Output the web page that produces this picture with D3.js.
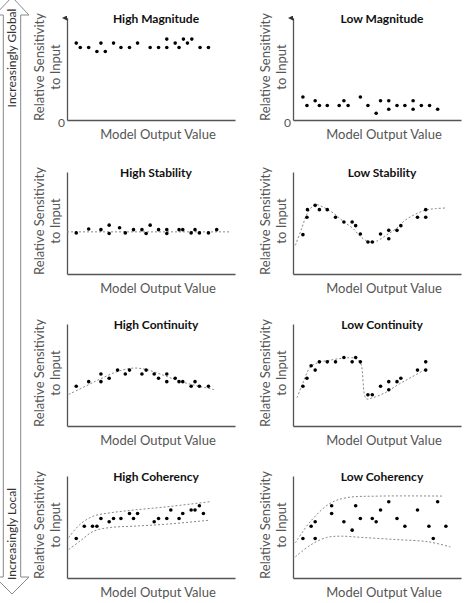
<html lang="en">

<head>
  <meta charset="utf-8">
  <title>Sensitivity patterns</title>
  <script type="text/javascript" src="https://d3js.org/d3.v7.min.js"></script>
  <style>
    body { margin: 0; background: #fff; }
    text { font-family: Lato, "Open Sans", sans-serif; }
  </style>
</head>

<body>
  <svg width="467" height="603"></svg>
  <script>
    // panel titles, in reading order
    const titles = ["High Magnitude", "Low Magnitude", "High Stability", "Low Stability",
      "High Continuity", "Low Continuity", "High Coherency", "Low Coherency"];
    const xLabel = "Model Output Value";
    const yLabel = ["Relative Sensitivity", "to Input"];
    const sideLabels = ["Increasingly Global", "Increasingly Local"];

    // points: [x, y] on a 0..100 scale
    const highMagnitude = [[5.5, 75.4], [7.9, 71.1], [12.9, 71.1], [17.8, 67.2], [20.2, 75.4], [22.8, 67.2],
      [27.7, 75.4], [32.1, 71.1], [37.2, 71.1], [42.0, 75.4], [49.5, 71.1], [54.5, 71.1], [59.4, 79.3],
      [59.4, 71.1], [64.4, 75.4], [66.7, 71.1], [69.3, 79.3], [71.7, 75.4], [74.3, 79.3], [79.2, 71.1], [84.2, 71.1]];
    const lowMagnitude = [[5.9, 22.5], [8.3, 14.2], [13.2, 18.9], [15.7, 14.2], [20.4, 14.2], [27.5, 14.2],
      [30.3, 18.9], [32.8, 14.2], [40.1, 22.5], [44.6, 14.2], [49.5, 6.6], [52.1, 18.9], [57.0, 18.9],
      [57.0, 10.6], [61.9, 14.2], [66.6, 14.2], [71.5, 18.9], [71.5, 10.6], [76.4, 14.2], [81.3, 14.2], [86.1, 10.6]];
    const highStability = [[5.5, 40.3], [12.9, 44.1], [20.2, 43.5], [25.1, 47.9], [25.1, 39.7], [31.3, 45.4],
      [34.7, 40.3], [39.6, 43.5], [44.6, 43.5], [47.1, 39.7], [49.5, 47.9], [54.5, 43.5], [59.4, 43.5],
      [59.4, 39.7], [66.7, 43.5], [68.9, 43.5], [73.9, 40.3], [76.2, 43.5], [78.8, 40.3], [84.2, 40.3], [89.1, 43.5]];
    const highStabilityTrend = [[0, 41.3], [97, 41.3]];
    const lowStability = [[5.9, 38.6], [8.3, 55.6], [8.6, 63.1], [13.2, 67.3], [15.7, 63.1], [20.4, 63.1],
      [25.3, 55.6], [30.3, 51.0], [35.2, 51.0], [37.3, 47.4], [40.1, 39.2], [44.6, 31.4], [47.2, 31.4],
      [52.1, 39.2], [57.0, 42.8], [57.0, 34.6], [61.9, 42.8], [64.2, 47.4], [74.1, 55.6], [79.0, 63.1], [79.0, 55.6]];
    const lowStabilityTrend = [[1.4, 28.1], [5.3, 45.1], [8.6, 59.8], [13.2, 68.0], [18.1, 65.4], [24.0, 59.8],
      [29.9, 51.6], [35.8, 44.4], [40.7, 35.9], [45.6, 31.4], [49.5, 32.0], [55.4, 37.9], [61.3, 44.4],
      [67.2, 53.3], [73.1, 58.8], [79.0, 62.7], [84.9, 64.1], [90.8, 64.7]];
    const highContinuity = [[5.5, 39.0], [12.9, 43.5], [20.2, 51.0], [20.2, 43.5], [25.1, 46.8], [30.1, 54.8],
      [34.7, 51.0], [37.2, 54.8], [44.6, 51.0], [47.1, 54.8], [51.9, 51.0], [54.5, 46.8], [59.4, 51.0],
      [59.4, 43.5], [64.4, 46.8], [66.7, 43.5], [68.9, 43.5], [73.9, 39.0], [76.2, 43.5], [78.8, 39.0], [84.2, 39.0]];
    const highContinuityTrend = [[1.0, 31.0], [11.9, 39.7], [19.8, 46.1], [29.7, 53.2], [39.6, 56.8], [47.5, 55.2],
      [55.4, 51.0], [63.4, 46.1], [71.3, 41.9], [79.2, 38.7], [88.1, 35.5]];
    const lowContinuity = [[5.9, 39.0], [8.3, 46.8], [10.8, 59.0], [13.2, 54.8], [15.7, 62.9], [20.4, 62.9],
      [25.3, 62.9], [30.3, 67.1], [35.2, 62.9], [37.3, 67.1], [40.1, 62.9], [44.6, 30.6], [47.2, 30.6],
      [52.1, 39.0], [57.0, 43.5], [57.0, 35.5], [61.9, 43.5], [64.2, 46.8], [74.1, 54.8], [79.0, 62.9], [79.0, 54.8]];
    const lowContinuityTrend = [[2.4, 27.7], [5.3, 39.7], [10.2, 57.4], [15.1, 62.3], [22.0, 64.5], [29.9, 66.5],
      [36.7, 66.5], [40.1, 62.3], [43.6, 26.8], [47.5, 27.7], [55.4, 33.2], [63.3, 41.3], [71.1, 48.4], [79.0, 55.8]];
    const highCoherency = [[5.5, 38.7], [10.3, 50.8], [15.2, 50.8], [17.8, 50.8], [20.2, 58.4], [25.1, 55.1],
      [27.7, 58.4], [32.1, 58.4], [37.2, 63.3], [39.6, 58.4], [42.0, 63.3], [51.9, 55.1], [54.5, 58.4],
      [59.4, 58.4], [61.8, 66.6], [66.7, 58.4], [68.9, 63.3], [73.9, 66.6], [76.2, 66.6], [78.8, 70.8], [81.2, 63.3]];
    const highCoherencyUpper = [[1.0, 39.7], [7.9, 52.8], [15.8, 60.7], [25.7, 63.9], [39.6, 66.6], [59.4, 69.8], [85.1, 74.8]];
    const highCoherencyLower = [[1.0, 27.9], [7.9, 36.4], [15.8, 45.9], [25.7, 49.5], [39.6, 50.8], [59.4, 52.8], [85.1, 56.7]];
    const lowCoherency = [[5.9, 38.7], [10.8, 50.8], [13.2, 55.1], [13.2, 38.7], [23.0, 70.8], [23.0, 63.3],
      [30.3, 55.1], [35.2, 46.9], [37.3, 70.8], [40.1, 58.4], [47.2, 58.4], [49.5, 55.1], [52.1, 66.6],
      [57.0, 74.8], [61.9, 58.4], [66.6, 50.8], [74.1, 66.6], [80.9, 50.8], [83.5, 38.7], [86.1, 74.8], [91.0, 50.8]];
    const lowCoherencyUpper = [[1.4, 34.4], [10.2, 55.1], [22.0, 73.1], [31.8, 78.7], [51.5, 80.3], [89.8, 80.3]];
    const lowCoherencyLower = [[1.4, 20.7], [10.2, 32.1], [20.0, 39.7], [27.9, 41.0], [41.7, 39.7], [61.3, 37.7],
      [80.9, 35.4], [93.7, 30.5]];

    const panels = [
      { points: highMagnitude, trends: [] },
      { points: lowMagnitude, trends: [] },
      { points: highStability, trends: [highStabilityTrend] },
      { points: lowStability, trends: [lowStabilityTrend] },
      { points: highContinuity, trends: [highContinuityTrend] },
      { points: lowContinuity, trends: [lowContinuityTrend] },
      { points: highCoherency, trends: [highCoherencyUpper, highCoherencyLower] },
      { points: lowCoherency, trends: [lowCoherencyUpper, lowCoherencyLower] }
    ];

    const svg = d3.select("svg");
    const colX = [67, 293];
    const rowBottom = [120, 274, 426, 578];
    const w = 168, h = 102;

    const x = d3.scaleLinear().domain([0, 100]).range([0, w]);
    const y = d3.scaleLinear().domain([0, 100]).range([h, 0]);

    svg.append("defs").append("marker")
      .attr("id", "head")
      .attr("viewBox", "0 0 6 6")
      .attr("refX", 3).attr("refY", 6)
      .attr("markerWidth", 5).attr("markerHeight", 5)
      .attr("orient", "auto-start-reverse")
      .append("path")
      .attr("d", "M0,6 L3,0 L6,6 Z")
      .attr("fill", "#333");

    const line = d3.line()
      .x(d => x(d[0]))
      .y(d => y(d[1]))
      .curve(d3.curveCatmullRom.alpha(0.5));

    panels.forEach((p, i) => {
      const col = i % 2, row = Math.floor(i / 2);
      const g = svg.append("g")
        .attr("transform", `translate(${colX[col]},${rowBottom[row] - h})`);

      // axes
      const yAxis = d3.axisLeft(y)
        .tickValues(row === 0 ? [0] : [])
        .tickSize(0).tickPadding(2).tickSizeOuter(0);
      const ya = g.append("g").call(yAxis);
      ya.select(".domain").attr("stroke", "#555").attr("stroke-width", 1.3);
      ya.selectAll("text").attr("font-size", 12).attr("fill", "#555").attr("dy", "0.55em");
      if (row === 0) {
        ya.append("line")
          .attr("x1", 0).attr("x2", 0).attr("y1", 2).attr("y2", 0)
          .attr("stroke", "#333").attr("marker-end", "url(#head)");
      }

      const xa = g.append("g")
        .attr("transform", `translate(0,${h})`)
        .call(d3.axisBottom(x).tickValues([]).tickSizeOuter(0));
      xa.select(".domain").attr("stroke", "#555").attr("stroke-width", 1.3);

      // trend / envelope lines
      g.selectAll("path.trend")
        .data(p.trends)
        .join("path")
        .attr("class", "trend")
        .attr("d", line)
        .attr("fill", "none")
        .attr("stroke", "#888")
        .attr("stroke-width", 1)
        .attr("stroke-dasharray", "2,2");

      g.selectAll("circle")
        .data(p.points)
        .join("circle")
        .attr("cx", d => x(d[0]))
        .attr("cy", d => y(d[1]))
        .attr("r", 1.8)
        .attr("fill", "#000");

      g.append("text")
        .attr("x", 89).attr("y", 2)
        .attr("text-anchor", "middle")
        .attr("dominant-baseline", "middle")
        .attr("font-size", 12)
        .attr("font-weight", "bold")
        .attr("fill", "#111")
        .text(titles[i]);

      g.append("text")
        .attr("x", 91).attr("y", h + 16)
        .attr("text-anchor", "middle")
        .attr("dominant-baseline", "middle")
        .attr("font-size", 13)
        .attr("fill", "#555")
        .text(xLabel);

      yLabel.forEach((t, k) => {
        g.append("text")
          .attr("transform", `translate(${k === 0 ? -26 : -10},${h - 53}) rotate(-90)`)
          .attr("text-anchor", "middle")
          .attr("dominant-baseline", "middle")
          .attr("font-size", 13)
          .attr("fill", "#555")
          .text(t);
      });
    });

    // double-headed arrow on the left
    const ax = 12, sw = 8.7, hw = 17;
    svg.append("path")
      .attr("d", `M${ax},-3 L${ax + hw},15 L${ax + sw},15 L${ax + sw},577 L${ax + hw},577 L${ax},594
        L${ax - hw},577 L${ax - sw},577 L${ax - sw},15 L${ax - hw},15 Z`)
      .attr("fill", "#fff")
      .attr("stroke", "#888")
      .attr("stroke-width", 1);

    svg.selectAll("text.side")
      .data(sideLabels)
      .join("text")
      .attr("class", "side")
      .attr("transform", (d, i) => `translate(${ax + 1},${i === 0 ? 58 : 534}) rotate(-90)`)
      .attr("text-anchor", "middle")
      .attr("dominant-baseline", "middle")
      .attr("font-size", 12)
      .attr("fill", "#333")
      .text(d => d);
  </script>
</body>

</html>
